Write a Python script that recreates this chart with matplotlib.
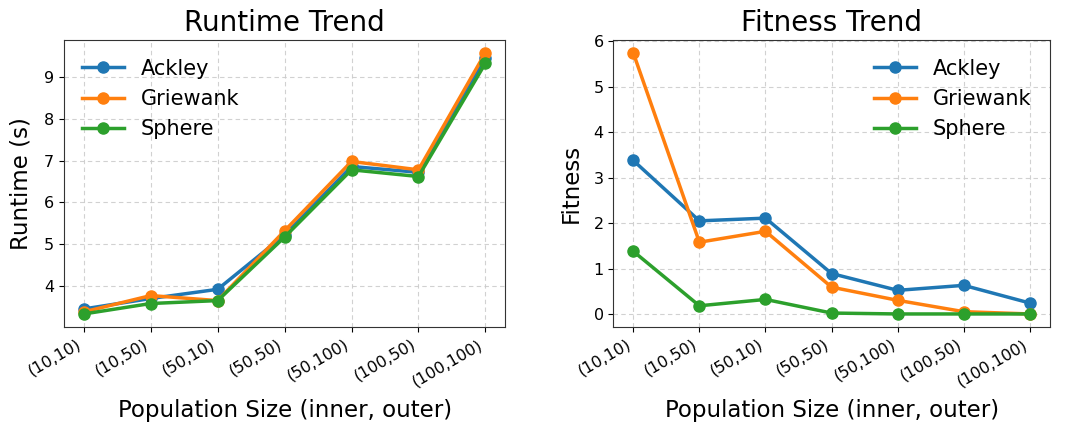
import matplotlib
matplotlib.use("Agg")
import matplotlib.pyplot as plt

categories = ["(10,10)", "(10,50)", "(50,10)", "(50,50)", "(50,100)", "(100,50)", "(100,100)"]
series_names = ["Ackley", "Griewank", "Sphere"]

runtime_ackley = [3.45, 3.70, 3.92, 5.22, 6.86, 6.72, 9.45]
runtime_griewank = [3.38, 3.77, 3.65, 5.32, 6.98, 6.78, 9.58]
runtime_sphere = [3.33, 3.58, 3.65, 5.17, 6.78, 6.62, 9.33]

fitness_ackley = [3.38, 2.05, 2.11, 0.89, 0.52, 0.63, 0.24]
fitness_griewank = [5.75, 1.58, 1.82, 0.59, 0.30, 0.05, 0.00]
fitness_sphere = [1.38, 0.18, 0.32, 0.02, 0.00, 0.00, 0.00]

colors = ["#1f77b4", "#ff7f0e", "#2ca02c"]

fig = plt.figure(figsize=(10.8, 4.3), dpi=100)
ax1 = fig.add_axes([0.059, 0.2395, 0.409, 0.668])
ax2 = fig.add_axes([0.568, 0.2395, 0.404, 0.668])

x = list(range(len(categories)))

def draw(ax, data, title, ylabel, loc):
    for name, vals, c in zip(series_names, data, colors):
        ax.plot(x, vals, marker="o", color=c, lw=2.5, markersize=8, label=name)
    ax.set_title(title, fontsize=20)
    ax.set_ylabel(ylabel, fontsize=16.5, labelpad=8)
    ax.set_xlabel("Population Size (inner, outer)", fontsize=16.5, labelpad=7)
    ax.set_xticks(x)
    ax.set_xticklabels(categories, rotation=30, ha="right", fontsize=11.5)
    ax.tick_params(axis="y", labelsize=11.5)
    ax.grid(True, linestyle=(0, (4, 3)), color="#cccccc", alpha=0.9, lw=0.8)
    for s in ax.spines.values():
        s.set_color("#333333")
    ax.legend(loc=loc, fontsize=15, frameon=False)

draw(ax1, [runtime_ackley, runtime_griewank, runtime_sphere], "Runtime Trend", "Runtime (s)", "upper left")
draw(ax2, [fitness_ackley, fitness_griewank, fitness_sphere], "Fitness Trend", "Fitness", "upper right")

fig.savefig("out.png", dpi=100)
